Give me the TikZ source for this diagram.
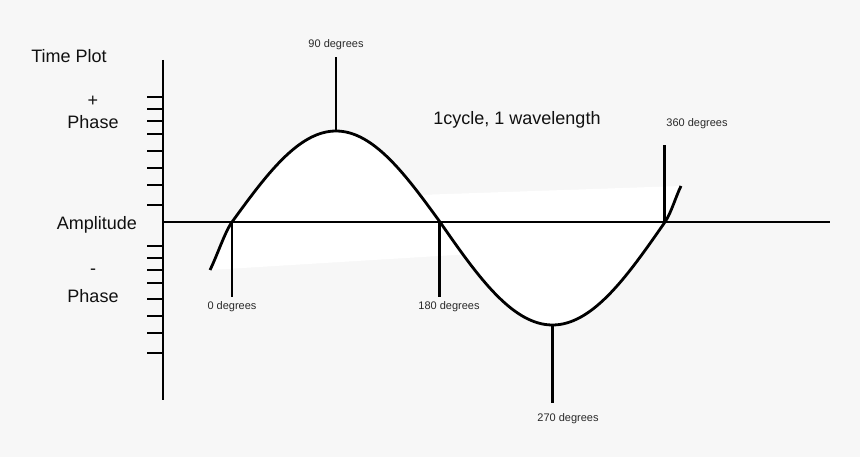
\documentclass[tikz,border=0pt]{standalone}
\usepackage{fontspec}
\setmainfont{Liberation Sans}
\definecolor{bg}{HTML}{F7F7F7}
\definecolor{ink}{HTML}{111111}
\begin{document}
\begin{tikzpicture}[x=1pt,y=-1pt,
  big/.style={font=\fontsize{18}{20}\selectfont, text=ink, inner sep=0pt},
  small/.style={font=\fontsize{11}{13}\selectfont, text=ink!90, inner sep=0pt},
  axisline/.style={line width=2.8pt, draw=black},
  tickline/.style={line width=2.8pt, draw=black},
  markline/.style={line width=2.6pt, draw=black},
  wave/.style={line width=2.8pt, draw=black, line join=round}]
\fill[bg] (0,0) rectangle (860,457);
\useasboundingbox (0,0) rectangle (860,457);

% white fills
\fill[white] (210,270) .. controls (217,256) and (225,231.6) .. (232,222)
  -- plot[domain=232:440,samples=60] (\x,{222-91*sin((\x-232)/208*180)})
  -- plot[domain=440:463,samples=10] (\x,{222+103*sin((\x-440)/225*180)})
  -- cycle;
\fill[white] plot[domain=420:440,samples=10] (\x,{222-91*sin((\x-232)/208*180)})
  -- plot[domain=440:665,samples=60] (\x,{222+103*sin((\x-440)/225*180)})
  .. controls (671,213.4) and (676,196) .. (681,186)
  -- cycle;

% coordinates
\coordinate (vtop) at (163,60);
\coordinate (vbot) at (163,400);
\coordinate (origin) at (163,222);
\coordinate (hend) at (830,222);
\coordinate (z0) at (232,222);
\coordinate (z0b) at (232,297);
\coordinate (z180) at (439.5,222);
\coordinate (z180b) at (439.5,297);
\coordinate (peak) at (336,131);
\coordinate (peakt) at (336,57);
\coordinate (trough) at (552.5,325);
\coordinate (troughb) at (552.5,403);
\coordinate (z360) at (664.5,222);
\coordinate (z360t) at (664.5,145);

% axes
\draw[axisline] (vtop) -- (vbot);
\draw[axisline] (origin) -- (hend);
\foreach \yy in {97,109,121,134,151,168,185,205,246,258,270,283,299,316,333,353}
  \draw[tickline] (147,\yy) -- (163,\yy);

% markers
\draw[markline] (z0) -- (z0b);
\draw[markline] (z180) -- (z180b);
\draw[markline] (peak) -- (peakt);
\draw[markline] (trough) -- (troughb);
\draw[markline] (z360) -- (z360t);

% wave
\draw[wave] (210,270) .. controls (217,256) and (225,231.6) .. (232,222)
  -- plot[domain=232:440,samples=80] (\x,{222-91*sin((\x-232)/208*180)})
  -- plot[domain=440:665,samples=80] (\x,{222+103*sin((\x-440)/225*180)})
  .. controls (671,213.4) and (676,196) .. (681,186);

% labels
\node[big] (timeplot) at (69,56) {Time Plot};
\node[big] (plus) at (93,101) {+};
\node[big] (phase1) at (93,122) {Phase};
\node[big] (ampl) at (97,225) {Amplitude};
\node[big] (minus) at (93,272) {-};
\node[big] (phase2) at (93,296) {Phase};
\node[big] (cycle) at (517,120) {1cycle, 1 wavelength};
\node[small] (d90) at (336,45) {90 degrees};
\node[small] (d0) at (232,307) {0 degrees};
\node[small] (d180) at (449,307) {180 degrees};
\node[small] (d270) at (568,419) {270 degrees};
\node[small] (d360) at (697,124) {360 degrees};
\end{tikzpicture}
\end{document}
